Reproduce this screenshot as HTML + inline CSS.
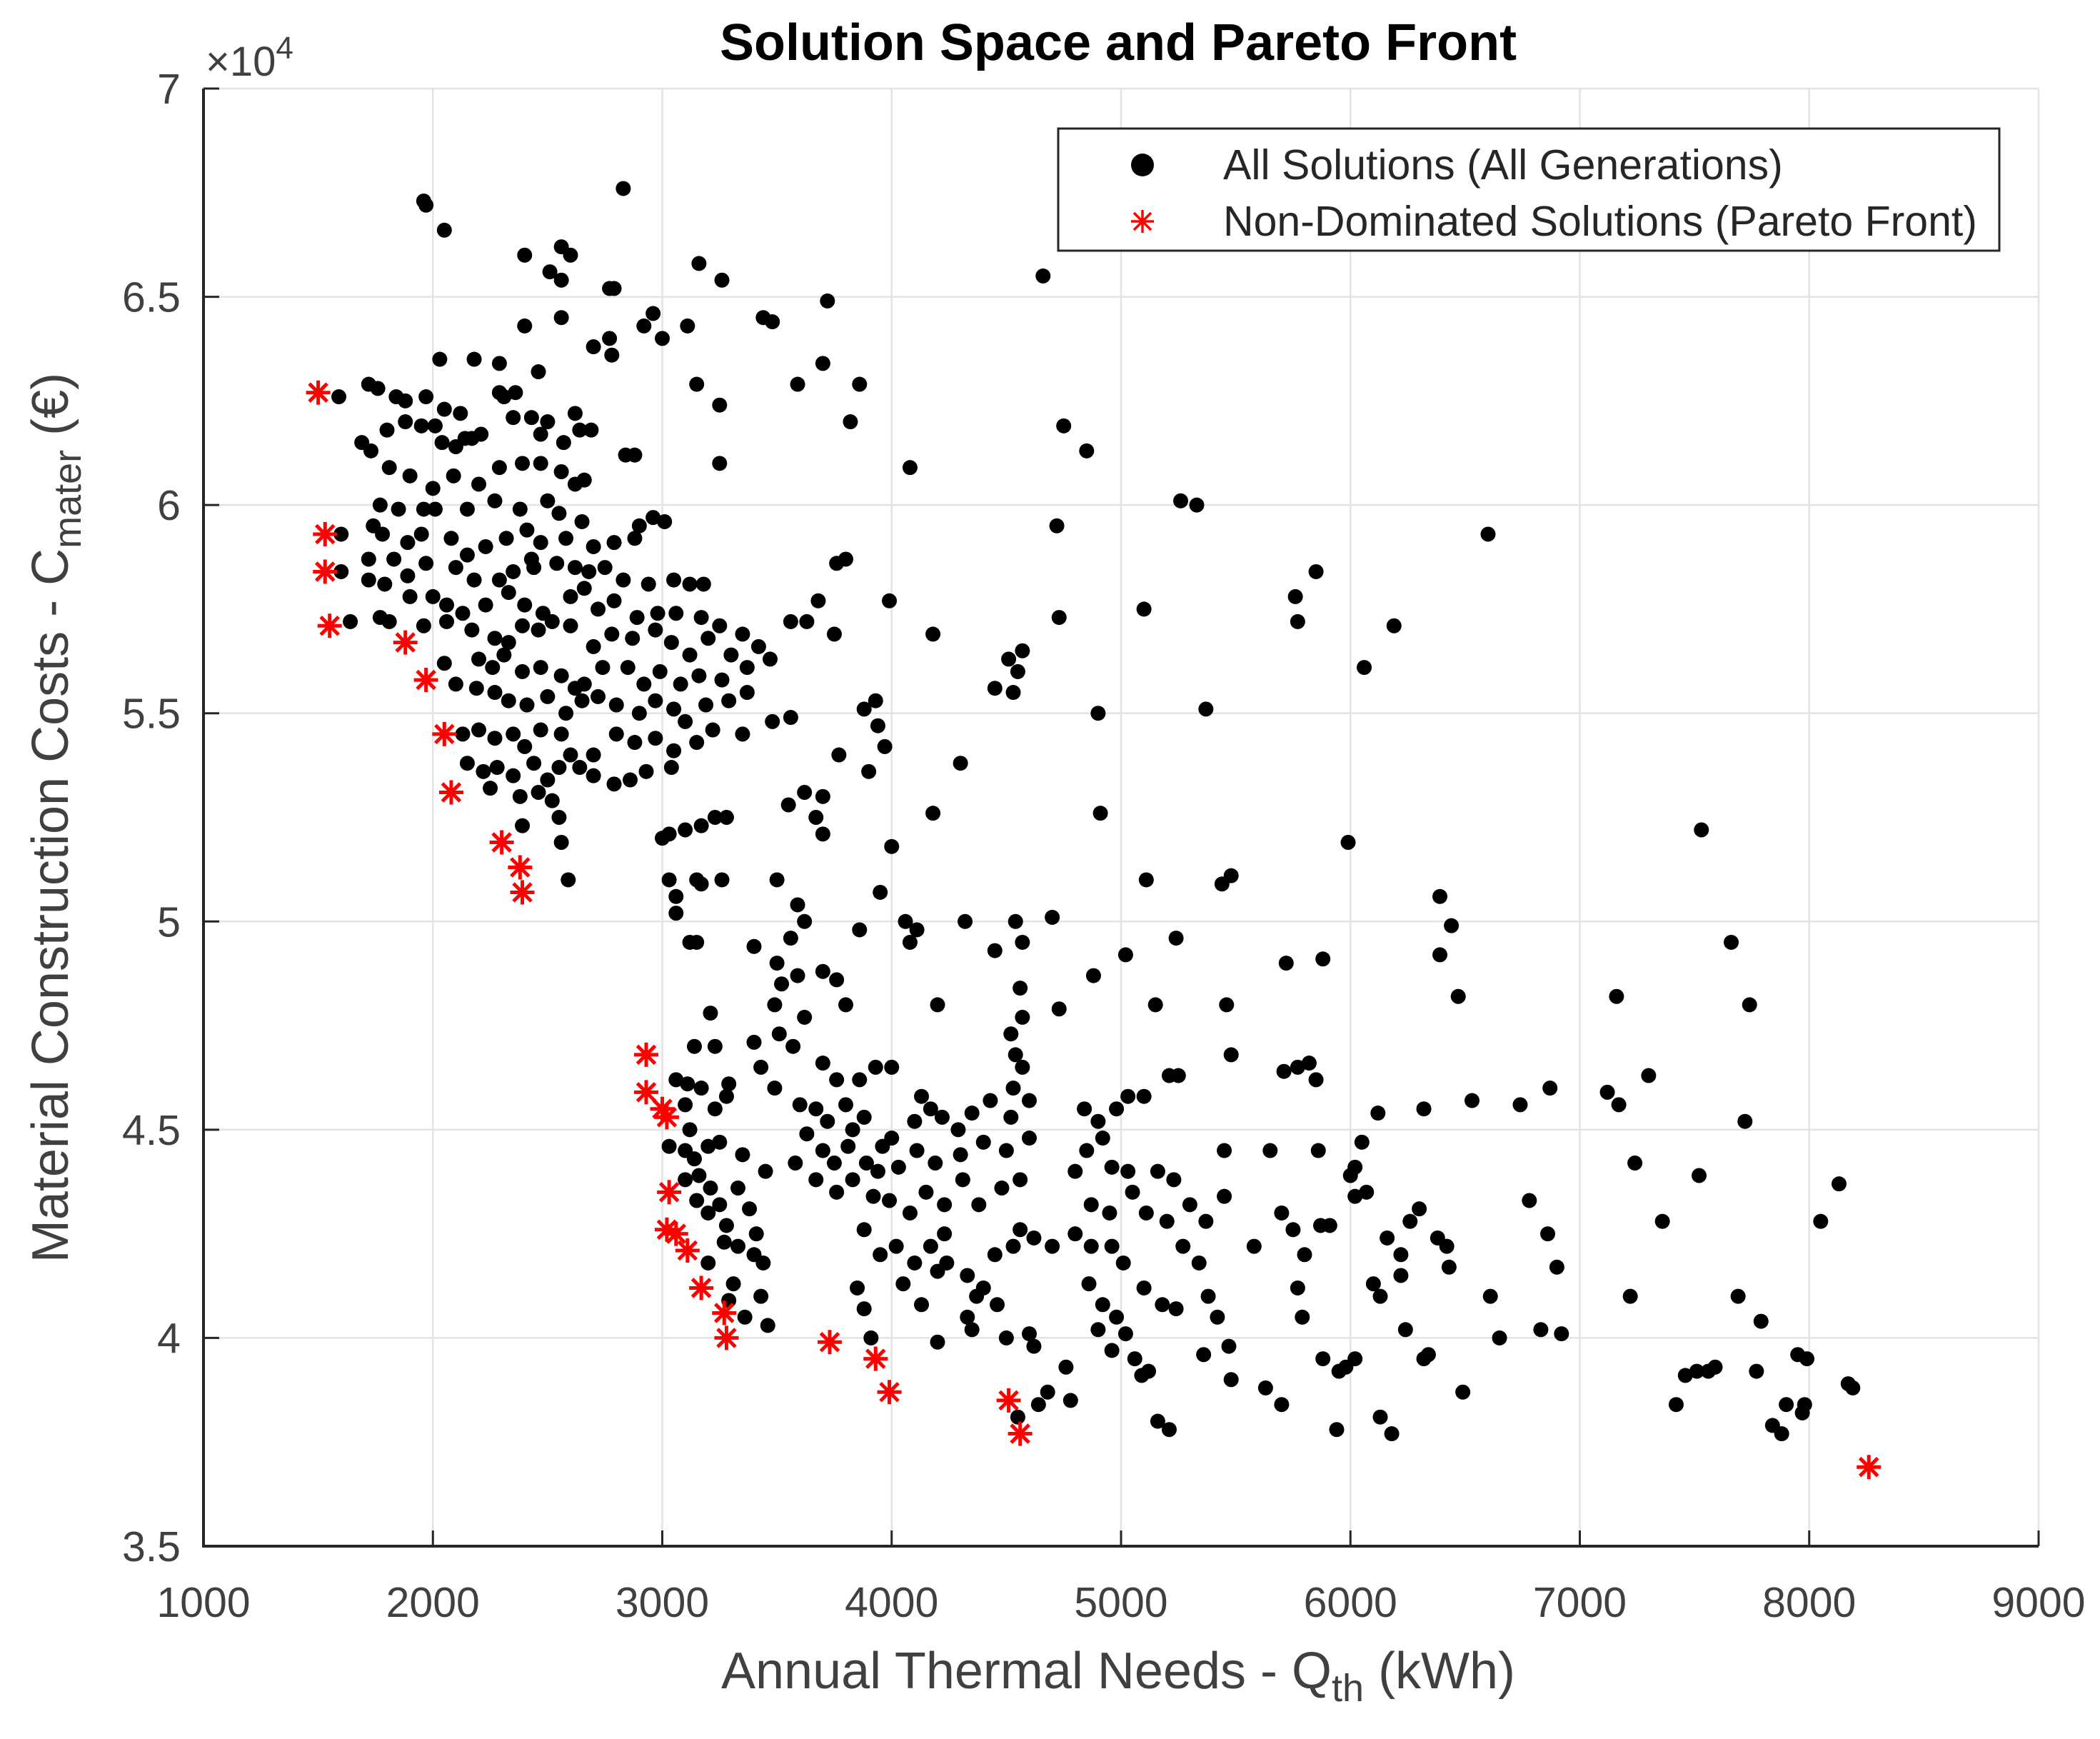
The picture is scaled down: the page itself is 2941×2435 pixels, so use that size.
<!DOCTYPE html>
<html><head><meta charset="utf-8"><style>
html,body{margin:0;padding:0;background:#fff;}
svg{display:block;font-family:"Liberation Sans",sans-serif;}
</style></head><body>
<svg id="chart" width="2941" height="2435" viewBox="0 0 2941 2435" xmlns="http://www.w3.org/2000/svg">
<rect x="0" y="0" width="2941" height="2435" fill="#fff"/>
<g id="grid"></g>
<g id="axes"></g>
<g id="allpts"></g>
<g id="pareto"></g>
<text x="1566" y="84" text-anchor="middle" font-size="72" font-weight="bold" fill="#000">Solution Space and Pareto Front</text>
<text x="288" y="106" font-size="58" fill="#404040">×10<tspan font-size="44" dy="-24">4</tspan></text>
<text x="1566" y="2364" text-anchor="middle" font-size="72" fill="#404040">Annual Thermal Needs - Q<tspan font-size="54" dy="18">th</tspan><tspan dy="-18"> (kWh)</tspan></text>
<text transform="translate(95,1145) rotate(-90)" text-anchor="middle" font-size="72" fill="#404040">Material Construction Costs - C<tspan font-size="54" dy="18">mater</tspan><tspan dy="-18"> (€)</tspan></text>
<g>
<rect x="1482" y="180" width="1318" height="171" fill="#fff" stroke="#262626" stroke-width="3"/>
<circle cx="1600" cy="231" r="16" fill="#000"/>
<text x="1713" y="251" font-size="59" fill="#262626">All Solutions (All Generations)</text>
<g stroke="#ff0000" stroke-width="3.5" transform="translate(1600,310)">
<line x1="-16" y1="0" x2="16" y2="0"/><line x1="0" y1="-16" x2="0" y2="16"/><line x1="-12" y1="-12" x2="12" y2="12"/><line x1="-12" y1="12" x2="12" y2="-12"/>
</g>
<text x="1713" y="330" font-size="59" fill="#262626">Non-Dominated Solutions (Pareto Front)</text>
</g>
</svg>
<script>
const xTicks = [1000,2000,3000,4000,5000,6000,7000,8000,9000];
const yTicks = [3.5,4,4.5,5,5.5,6,6.5,7];
const yTickLabels = ["3.5","4","4.5","5","5.5","6","6.5","7"];
// y values in units of 10^4 €
const allX = [1960,1970,2050,2830,2400,2560,2600,2510,2560,2770,2790,2960,2920,3000,3110,2400,2560,2700,2770,2780,2030,2180,2290,2460,2360,2290,2310,2120,2050,1590,1720,1760,1840,1880,1970,1880,1800,1690,1730,1950,2010,2040,2100,2140,2170,2210,2350,2430,2470,2500,2620,2640,2570,2690,2840,2880,1810,1900,2000,2090,2200,2290,2390,2470,2560,2620,2660,1770,1850,1960,2010,2150,2270,2380,2410,2500,2550,2650,2960,3010,1740,1780,1890,1950,2080,2230,2320,2430,2470,2580,2700,2790,2880,2900,1600,1720,1830,1890,1970,2100,2150,2180,2290,2350,2440,2540,2620,2680,2750,2830,2940,3050,3120,3180,1600,1720,1790,1900,2000,2060,2130,2230,2330,2400,2480,2600,2660,2720,2790,2890,2980,3060,3170,3250,3350,1640,1770,1810,1960,2060,2170,2270,2330,2390,2460,2520,2600,2700,2780,2870,2970,3040,3120,3200,3300,3420,3560,3630,3750,3760,3800,2050,2200,2260,2310,2390,2470,2560,2620,2660,2740,2850,2920,2990,3080,3160,3260,3370,3470,2100,2190,2270,2330,2410,2500,2580,2650,2720,2800,2900,2970,3050,3100,3190,3290,3370,3480,3560,2130,2200,2270,2350,2400,2470,2560,2600,2700,2800,2880,2970,3050,3150,3220,3350,2150,2220,2280,2350,2440,2500,2550,2640,2700,2790,2860,2930,3040,2250,2380,2460,2520,2550,2390,2560,2590,3000,3030,3100,3170,3230,3280,3030,3060,3060,3150,3170,3260,3120,3150,
3590,3700,3720,3860,3260,3250,3150,3160,3440,3480,3250,3820,4080,3680,3990,4180,3930,3880,3940,3770,3970,3900,4180,4000,3620,3550,3670,3700,3700,3500,3620,3560,3590,3400,3500,3520,3590,3490,3700,3760,3800,3860,3950,4060,4080,4110,4320,4450,4200,3510,3570,3620,3700,3760,3860,3930,4000,4130,4170,3430,3490,3600,3670,3720,3800,3830,3880,3960,4000,4100,4220,4290,4350,4430,4530,3630,3700,3750,3810,3890,3940,4030,4110,4190,4300,4400,4500,4600,3670,3760,3830,3920,3990,4080,4150,4230,4310,4380,4480,4560,3450,3580,3350,3330,3380,3250,3210,3410,3400,3440,3430,3460,3330,3270,3880,3950,4020,4100,4170,4200,4240,4330,4400,4450,4530,4560,4620,4700,3850,3880,4050,4130,4200,4330,4370,4460,4350,4500,4600,4620,4680,4760,4780,4550,4640,3910,4230,3140,3110,3100,3120,3100,3140,3160,3100,3200,3230,3280,3290,3170,3250,3150,3200,3280,3310,3290,3360,3200,3060,3030,3210,3230,3400,4300,4450,4510,4550,4570,4530,4660,4750,4720,4730,4850,4900,4910,4540,4570,4560,4570,4700,4730,4880,4540,4520,4570,4600,4520,
5260,5330,5100,5370,5760,5770,5850,6190,6060,6600,5990,5110,5240,5020,5150,5440,5480,5460,5480,5720,5880,5710,5770,5820,5850,6390,6390,6440,6470,7530,7660,7740,7160,7300,7720,7120,7170,6870,6740,6530,6320,6120,6050,6020,6000,6020,6070,5860,5650,5450,5450,5210,5250,5100,5030,4980,4900,4840,4920,4850,4800,4960,5030,5160,5230,5300,5370,4870,4950,5050,5110,5200,5270,5340,4800,4870,4960,5010,5100,5180,5240,5380,5420,5470,4860,4920,4980,5020,5060,5090,5120,5160,5210,4900,4960,5360,5480,5580,5700,5750,5770,5800,5870,5910,5790,5880,5950,5980,6020,5940,5700,5630,6130,6180,6100,6130,6160,6220,6260,6300,6220,6240,6340,6320,6380,6420,6430,6490,6610,6650,6780,6830,6860,6900,6920,7220,7240,7360,7420,7460,7510,7520,7560,7590,7690,7770,7790,7840,7880,7900,7950,7990,7970,8050,8130,8170,8190,7980];
const allY = [6.73,6.72,6.66,6.76,6.60,6.62,6.60,6.56,6.54,6.52,6.52,6.46,6.43,6.40,6.43,6.43,6.45,6.38,6.40,6.36,6.35,6.35,6.34,6.32,6.27,6.27,6.26,6.22,6.23,6.26,6.29,6.28,6.26,6.25,6.26,6.20,6.18,6.15,6.13,6.19,6.19,6.15,6.14,6.16,6.16,6.17,6.21,6.21,6.17,6.20,6.22,6.18,6.15,6.18,6.12,6.12,6.09,6.07,6.04,6.07,6.05,6.09,6.10,6.10,6.08,6.05,6.06,6.00,5.99,5.99,5.99,5.99,6.01,5.99,5.94,6.01,5.98,5.96,5.97,5.96,5.95,5.93,5.91,5.93,5.92,5.90,5.92,5.87,5.91,5.92,5.90,5.91,5.92,5.95,5.93,5.87,5.87,5.83,5.86,5.85,5.88,5.82,5.82,5.84,5.85,5.86,5.85,5.84,5.85,5.82,5.81,5.82,5.81,5.81,5.84,5.82,5.81,5.78,5.78,5.76,5.74,5.76,5.79,5.76,5.74,5.78,5.80,5.75,5.77,5.73,5.74,5.74,5.73,5.71,5.69,5.72,5.73,5.72,5.71,5.72,5.70,5.68,5.67,5.71,5.70,5.72,5.71,5.66,5.69,5.68,5.70,5.67,5.64,5.68,5.64,5.66,5.72,5.72,5.69,5.86,5.87,5.62,5.63,5.61,5.64,5.60,5.61,5.59,5.56,5.57,5.61,5.61,5.57,5.60,5.57,5.59,5.58,5.61,5.63,5.57,5.56,5.55,5.53,5.52,5.54,5.50,5.53,5.54,5.52,5.50,5.53,5.51,5.48,5.52,5.53,5.55,5.48,5.49,5.45,5.46,5.44,5.45,5.42,5.46,5.45,5.40,5.40,5.45,5.43,5.44,5.41,5.43,5.46,5.45,5.38,5.36,5.37,5.35,5.38,5.34,5.37,5.37,5.35,5.33,5.34,5.36,5.37,5.32,5.30,5.31,5.29,5.25,5.23,5.19,5.10,5.20,5.21,5.22,5.23,5.25,5.25,5.10,5.06,5.02,5.10,5.09,5.10,4.95,4.95,
6.29,6.34,6.49,6.29,6.54,6.24,6.29,6.58,6.45,6.44,6.10,6.20,6.09,5.77,5.77,5.69,5.53,5.51,5.47,5.40,5.42,5.36,5.26,5.18,5.31,5.28,5.25,5.21,5.30,5.10,5.00,4.96,5.04,4.94,4.90,4.85,4.87,4.80,4.88,4.86,4.80,4.98,5.07,5.00,4.95,4.98,5.00,4.93,4.80,4.73,4.70,4.77,4.66,4.62,4.62,4.65,4.65,4.58,4.55,4.65,4.60,4.56,4.55,4.52,4.56,4.50,4.53,4.46,4.48,4.52,4.53,4.50,4.54,4.57,4.60,4.49,4.45,4.42,4.46,4.42,4.40,4.41,4.45,4.42,4.44,4.47,4.45,4.48,4.38,4.35,4.38,4.34,4.33,4.30,4.35,4.32,4.38,4.32,4.36,4.38,4.40,4.42,4.44,4.36,4.31,4.32,4.36,4.25,4.20,4.18,4.10,4.03,4.22,4.23,4.26,4.20,4.22,4.18,4.22,4.16,4.18,4.15,4.12,4.20,4.22,4.26,4.24,4.22,4.12,4.07,4.13,4.08,3.99,4.05,4.10,4.08,4.02,4.00,4.01,3.98,3.87,3.93,3.85,3.81,3.84,4.00,4.25,4.70,4.61,4.56,4.50,4.45,4.43,4.39,4.38,4.46,4.55,4.58,4.61,4.60,4.47,4.33,4.30,4.27,4.13,4.09,4.05,4.18,4.62,4.46,4.78,4.70,4.71,5.38,5.56,5.63,5.60,5.65,5.55,6.55,6.19,5.95,5.73,6.13,5.50,5.26,5.00,4.95,4.84,4.77,5.01,4.79,4.87,4.68,4.73,4.65,4.57,4.53,
6.01,6.00,5.75,5.51,5.78,5.72,5.84,5.71,5.61,5.93,5.19,5.10,4.96,4.92,4.80,5.09,5.11,4.80,4.68,4.90,4.91,4.64,4.65,4.66,4.62,5.06,4.92,4.99,4.82,5.22,4.95,4.80,4.82,4.63,4.52,4.59,4.56,4.60,4.56,4.57,4.55,4.54,4.47,4.41,4.39,4.34,4.35,4.45,4.45,4.45,4.34,4.63,4.63,4.58,4.58,4.55,4.52,4.55,4.48,4.45,4.40,4.41,4.40,4.40,4.38,4.32,4.28,4.32,4.30,4.35,4.30,4.28,4.22,4.18,4.25,4.22,4.22,4.18,4.12,4.08,4.07,4.10,4.05,3.98,4.13,4.08,4.05,4.01,3.95,3.91,3.92,3.80,3.78,4.02,3.97,3.96,3.90,4.22,4.30,4.26,4.12,4.20,4.27,4.27,4.05,3.95,3.92,3.93,3.95,3.78,3.84,3.88,3.81,3.77,4.13,4.10,4.24,4.20,4.28,4.31,4.15,4.02,3.96,3.95,4.24,4.22,4.17,3.87,4.10,4.00,4.33,4.02,4.25,4.17,4.01,4.10,4.42,4.28,3.84,3.91,3.92,4.39,3.92,3.93,4.10,3.92,4.04,3.79,3.77,3.84,3.96,3.95,3.82,4.28,4.37,3.89,3.88,3.84];
const paretoX = [1500,1530,1530,1550,1880,1970,2050,2080,2300,2380,2390,2930,2930,3000,3020,3030,3020,3060,3110,3170,3270,3280,3730,3930,3990,4510,4560,8260];
const paretoY = [6.27,5.93,5.84,5.71,5.67,5.58,5.45,5.31,5.19,5.13,5.07,4.68,4.59,4.55,4.53,4.35,4.26,4.25,4.21,4.12,4.06,4.00,3.99,3.95,3.87,3.85,3.77,3.69];

const X0=285,X1=2855,Y0=2165,Y1=124;
function sx(v){return X0+(v-1000)/(9000-1000)*(X1-X0);}
function sy(v){return Y0-(v-3.5)/(7-3.5)*(Y0-Y1);}
const NS="http://www.w3.org/2000/svg";
function mk(tag,attrs,parent){const e=document.createElementNS(NS,tag);for(const k in attrs)e.setAttribute(k,attrs[k]);parent.appendChild(e);return e;}
const grid=document.getElementById('grid'),axes=document.getElementById('axes');
xTicks.forEach((t,i)=>{
  const x=sx(t);
  const g=mk('line',{x1:x,y1:Y1,x2:x,y2:Y0,stroke:'#e3e3e3','stroke-width':2.5},grid);
  
  
  const tk=mk('line',{x1:x,y1:Y0,x2:x,y2:Y0-22,stroke:'#262626','stroke-width':3},axes);
  
  
  const lb=mk('text',{x:x,y:2264,'text-anchor':'middle','font-size':59,fill:'#404040'},axes);
  lb.textContent=String(t);
  
  
});
yTicks.forEach((t,i)=>{
  const y=sy(t);
  const g=mk('line',{x1:X0,y1:y,x2:X1,y2:y,stroke:'#e3e3e3','stroke-width':2.5},grid);
  
  
  const tk=mk('line',{x1:X0,y1:y,x2:X0+22,y2:y,stroke:'#262626','stroke-width':3},axes);
  
  
  const lb=mk('text',{x:253,y:y+21,'text-anchor':'end','font-size':59,fill:'#404040'},axes);
  lb.textContent=yTickLabels[i];
  
  
});
const ax=mk('path',{d:`M${X0},${Y1} L${X0},${Y0} L${X1},${Y0}`,fill:'none',stroke:'#262626','stroke-width':4},axes);


const all=document.getElementById('allpts');
allX.forEach((v,i)=>{
  const c=mk('circle',{cx:sx(v),cy:sy(allY[i]),r:10.5,fill:'#000'},all);
  
  
});
const par=document.getElementById('pareto');
paretoX.forEach((v,i)=>{
  const g=mk('g',{transform:`translate(${sx(v)},${sy(paretoY[i])})`,stroke:'#ff0000','stroke-width':5},par);
  
  
  mk('line',{x1:-17,y1:0,x2:17,y2:0},g);
  mk('line',{x1:0,y1:-17,x2:0,y2:17},g);
  mk('line',{x1:-12.5,y1:-12.5,x2:12.5,y2:12.5},g);
  mk('line',{x1:-12.5,y1:12.5,x2:12.5,y2:-12.5},g);
});
</script>
</body></html>
